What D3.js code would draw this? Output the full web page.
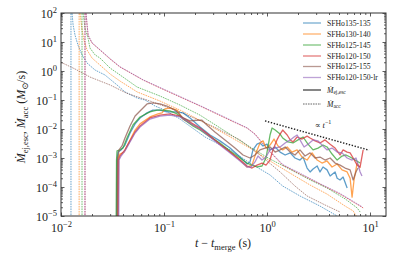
<!DOCTYPE html>
<html>
<head>
<meta charset="utf-8">
<script src="https://cdn.jsdelivr.net/npm/d3@7"></script>
<style>
  body { margin: 0; background: #fff; }
  text { font-family: "Liberation Serif", "DejaVu Serif", serif; fill: #222; }
</style>
</head>
<body>
<svg id="chart" width="407" height="255"></svg>
<script>
// models and colours (matplotlib tab10)
const models = ["SFHo135-135", "SFHo130-140", "SFHo125-145", "SFHo120-150", "SFHo125-155", "SFHo120-150-lr"];
const colors = ["#1f77b4", "#ff7f0e", "#2ca02c", "#d62728", "#8c564b", "#9467bd"];

// escaping ejecta rate [t - t_merge (s), Mdot (Msun/s)]
const ej135 = [[0.0346,1e-6],[0.0350,8.5e-4],[0.0358,1.6e-3],[0.0383,1.9e-3],[0.0418,2.8e-3],[0.0468,7.3e-3],[0.0524,1.5e-2],[0.0585,2.4e-2],[0.0684,3.6e-2],[0.078,4.5e-2],[0.0915,4.5e-2],[0.107,3.9e-2],[0.128,3.9e-2],[0.153,3.6e-2],[0.179,2.4e-2],[0.224,1.17e-2],[0.280,6.2e-3],[0.349,3.9e-3],[0.438,2.2e-3],[0.547,1.08e-3],[0.640,6.2e-4],[0.684,7.3e-4],[0.731,1.9e-3],[0.800,3.0e-3],[0.855,3.3e-3],[0.915,2.6e-3],[1.0,3.0e-3],[1.07,1.9e-3],[1.20,2.4e-3],[1.34,1.6e-3],[1.50,1.27e-3],[1.68,1.5e-3],[1.87,1.0e-3],[2.09,8.5e-4],[2.24,1.08e-3],[2.45,4.5e-4],[2.62,3.3e-4],[2.80,4.2e-4],[3.07,5.3e-4],[3.27,3.3e-4],[3.50,4.9e-4],[3.83,3.9e-4],[4.10,2.4e-4],[4.58,3.3e-4],[4.80,2.0e-4],[5.12,1.75e-4],[5.48,2.2e-4],[6.0,9.2e-5]];
const ej130 = [[0.0354,1e-6],[0.0358,1.0e-3],[0.0374,1.37e-3],[0.0410,1.6e-3],[0.0437,2.6e-3],[0.0468,4.2e-3],[0.0524,9.2e-3],[0.0585,1.5e-2],[0.0731,2.6e-2],[0.0875,3.3e-2],[0.0957,3.6e-2],[0.102,4.9e-2],[0.114,5.3e-2],[0.134,4.5e-2],[0.153,2.2e-2],[0.179,1.6e-2],[0.224,1.0e-2],[0.280,5.7e-3],[0.349,3.0e-3],[0.438,1.6e-3],[0.547,8.5e-4],[0.640,4.9e-4],[0.715,5.7e-4],[0.782,1.5e-3],[0.855,3.3e-3],[0.915,3.9e-3],[0.978,2.2e-3],[1.07,2.8e-3],[1.17,4.5e-3],[1.28,2.6e-3],[1.42,1.9e-3],[1.57,2.4e-3],[1.75,1.6e-3],[1.96,1.9e-3],[2.19,1.08e-3],[2.45,8.5e-4],[2.74,1.5e-3],[3.07,8.5e-4],[3.42,6.7e-4],[3.83,7.9e-4],[4.28,4.9e-4],[4.80,6.2e-4],[5.35,3.9e-4],[6.0,3.3e-4],[6.41,2.0e-4],[6.70,4.5e-5],[7.0,1.75e-4],[7.5,6.7e-4],[8.02,4.5e-4]];
const ej125 = [[0.0342,1e-6],[0.0346,8.5e-4],[0.0350,1.75e-3],[0.0374,1.9e-3],[0.0400,2.2e-3],[0.0437,4.9e-3],[0.050,1.37e-2],[0.0585,2.6e-2],[0.0731,3.9e-2],[0.0855,4.5e-2],[0.0978,4.5e-2],[0.114,4.2e-2],[0.134,3.3e-2],[0.160,2.0e-2],[0.191,1.27e-2],[0.224,9.2e-3],[0.280,5.3e-3],[0.349,3.3e-3],[0.438,1.75e-3],[0.547,1.0e-3],[0.640,6.7e-4],[0.715,5.7e-4],[0.800,4.9e-4],[0.894,5.3e-4],[0.978,1.0e-3],[1.07,6.2e-3],[1.12,1.08e-2],[1.20,9.2e-3],[1.34,6.7e-3],[1.42,4.9e-3],[1.60,3.6e-3],[1.79,3.3e-3],[2.0,4.2e-3],[2.24,5.3e-3],[2.50,3.0e-3],[2.80,1.9e-3],[3.13,2.2e-3],[3.50,2.8e-3],[3.83,2.4e-3],[4.28,1.37e-3],[4.80,8.5e-4],[5.35,1.17e-3],[5.85,1.27e-3],[6.41,1.08e-3],[7.17,8.5e-4],[8.02,6.7e-4]];
const ej120 = [[0.0358,1e-6],[0.0362,8.5e-4],[0.0374,1.17e-3],[0.0418,1.9e-3],[0.0468,3.9e-3],[0.0524,7.9e-3],[0.0585,1.27e-2],[0.0731,2.4e-2],[0.0915,3.0e-2],[0.114,3.3e-2],[0.143,2.8e-2],[0.179,1.75e-2],[0.224,1.08e-2],[0.280,5.7e-3],[0.349,3.0e-3],[0.438,1.6e-3],[0.547,8.5e-4],[0.640,5.3e-4],[0.715,4.5e-4],[0.800,5.7e-4],[0.894,6.7e-4],[0.978,5.7e-4],[1.07,8.5e-4],[1.14,1.9e-3],[1.25,4.2e-3],[1.34,6.7e-3],[1.42,9.2e-3],[1.57,6.2e-3],[1.68,4.2e-3],[1.79,3.6e-3],[1.96,5.3e-3],[2.19,4.5e-3],[2.45,5.7e-3],[2.62,4.9e-3],[2.93,3.9e-3],[3.27,3.3e-3],[3.66,4.2e-3],[4.10,3.0e-3],[4.58,2.2e-3],[5.12,1.27e-3],[5.48,1.9e-3],[6.0,1.6e-3],[6.41,1.5e-3],[6.86,1.0e-3],[7.5,5.7e-4],[8.02,4.9e-4],[8.58,1.9e-3]];
const ej125b = [[0.0350,1e-6],[0.0354,8.5e-4],[0.0366,1.9e-3],[0.0391,2.6e-3],[0.0418,4.9e-3],[0.0468,1.27e-2],[0.0524,2.8e-2],[0.0585,4.2e-2],[0.0684,7.3e-2],[0.078,7.9e-2],[0.0915,7.3e-2],[0.107,6.2e-2],[0.128,4.5e-2],[0.153,2.4e-2],[0.179,1.9e-2],[0.209,2.0e-2],[0.234,2.0e-2],[0.261,1.37e-2],[0.312,7.9e-3],[0.391,4.2e-3],[0.489,2.2e-3],[0.585,1.27e-3],[0.684,1.0e-3],[0.765,1.27e-3],[0.855,1.9e-3],[0.957,2.2e-3],[1.07,2.4e-3],[1.20,1.6e-3],[1.34,1.9e-3],[1.50,2.4e-3],[1.68,1.6e-3],[1.87,1.27e-3],[2.09,1.9e-3],[2.34,1.17e-3],[2.62,1.5e-3],[2.93,1.0e-3],[3.27,1.08e-3],[3.66,8.5e-4],[4.10,1.0e-3],[4.58,6.7e-4],[5.12,5.7e-4],[5.73,4.5e-4],[6.41,3.9e-4],[6.86,1.75e-4],[7.31,3.3e-4],[7.64,4.5e-4]];
const ej120lr = [[0.0362,1e-6],[0.0366,8.5e-4],[0.0383,1.17e-3],[0.0418,1.75e-3],[0.0468,3.6e-3],[0.0524,7.3e-3],[0.0585,1.17e-2],[0.0731,2.2e-2],[0.0915,2.8e-2],[0.114,3.0e-2],[0.143,2.6e-2],[0.179,1.6e-2],[0.224,1.0e-2],[0.280,5.3e-3],[0.349,2.8e-3],[0.438,1.5e-3],[0.547,7.9e-4],[0.640,4.9e-4],[0.700,4.9e-4],[0.765,7.3e-4],[0.818,1.17e-3],[0.894,8.5e-4],[0.978,1.08e-3],[1.07,1.9e-3],[1.20,2.2e-3],[1.34,2.4e-3],[1.50,3.3e-3],[1.68,4.2e-3],[1.83,5.3e-3],[1.96,6.2e-3],[2.09,4.2e-3],[2.29,2.4e-3],[2.50,3.0e-3],[2.80,4.2e-3],[3.13,3.9e-3],[3.42,2.8e-3],[3.83,1.9e-3],[4.28,2.2e-3],[4.80,1.6e-3],[5.35,1.5e-3],[6.0,1.0e-3],[6.70,8.5e-4],[7.31,1.0e-3],[8.02,3.3e-4],[8.36,2.4e-4]];

// accretion rate
const acc135 = [[0.0125,1e-6],[0.0125,300],[0.0128,100],[0.0131,39],[0.0137,17],[0.0146,7.9],[0.0160,3.6],[0.0179,1.89],[0.0214,1.08],[0.0267,0.73],[0.0350,0.33],[0.0418,0.19],[0.0548,0.117],[0.0654,0.10],[0.0818,6.2e-2],[0.102,4.5e-2],[0.143,2.2e-2],[0.250,5.3e-3],[0.438,1.9e-3],[0.684,6.7e-4],[1.07,2.6e-4],[1.42,1.08e-4],[2.09,4.9e-5],[3.27,2.2e-5],[4.80,1e-5],[5.73,4.9e-6]];
const acc130 = [[0.0150,1e-6],[0.0150,300],[0.0153,100],[0.0160,26],[0.0167,11.7],[0.0179,5.3],[0.0200,2.8],[0.0239,1.6],[0.0299,0.79],[0.0374,0.45],[0.0548,0.19],[0.0915,9.2e-2],[0.143,4.5e-2],[0.224,2.0e-2],[0.391,6.7e-3],[0.684,2.2e-3],[1.07,7.9e-4],[1.79,2.6e-4],[2.62,1.17e-4],[3.83,5.7e-5],[5.73,2.2e-5],[6.86,1.5e-5],[7.64,8e-6]];
const acc125 = [[0.0160,1e-6],[0.0160,300],[0.0164,100],[0.0171,30],[0.0183,13.7],[0.0191,6.2],[0.0214,3.6],[0.0239,2.8],[0.0299,1.27],[0.0374,0.73],[0.0548,0.28],[0.0915,0.137],[0.143,6.7e-2],[0.224,3.0e-2],[0.391,8.5e-3],[0.684,2.4e-3],[1.07,9.2e-4],[1.79,3.6e-4],[2.62,1.75e-4],[3.83,9.2e-5],[5.73,3.9e-5],[7.5,1.9e-5],[8.02,1.37e-5]];
const acc120 = [[0.0171,1e-6],[0.0171,300],[0.0175,100],[0.0179,39],[0.0183,17],[0.0200,9.2],[0.0239,5.3],[0.0299,2.6],[0.0374,1.37],[0.0625,0.49],[0.0915,0.26],[0.224,6.2e-2],[0.438,2.0e-2],[0.640,1.08e-2],[0.765,6.7e-3],[0.855,4.2e-3],[1.07,1.6e-3],[1.42,5.7e-4],[2.09,2.8e-4],[3.27,1.27e-4],[5.12,5.7e-5],[8.58,1.9e-5]];
const acc125b = [[0.01,2.0],[0.0137,1.17],[0.0191,0.62],[0.0299,0.33],[0.0437,0.17],[0.0731,9.2e-2],[0.143,3.9e-2],[0.280,1.37e-2],[0.547,4.2e-3],[0.855,1.27e-3],[1.34,3.3e-4],[1.87,1.08e-4],[2.45,4.9e-5],[3.66,2.4e-5],[5.12,1.37e-5]];
const acc120lr = [[0.0171,1e-6],[0.0171,300],[0.0175,100],[0.0179,40],[0.0184,17],[0.0200,9.5],[0.0239,5.4],[0.0299,2.7],[0.0374,1.4],[0.0625,0.5],[0.0915,0.27],[0.224,6.4e-2],[0.438,2.1e-2],[0.640,1.1e-2],[0.765,6.5e-3],[0.855,4.0e-3],[1.07,1.7e-3],[1.42,6.0e-4],[2.09,3.0e-4],[3.27,1.3e-4],[5.12,6.0e-5],[8.36,2.1e-5]];

const ejecta = [ej135, ej130, ej125, ej120, ej125b, ej120lr];
const accretion = [acc135, acc130, acc125, acc120, acc125b, acc120lr];

// reference slope line  ∝ t^-1
const slopeRef = [[0.957, 1.9e-2], [9.8, 1.86e-3]];

const xMajor = [1e-2, 1e-1, 1e0, 1e1];
const xLabels = ["\u22122", "\u22121", "0", "1"];
const yMajor = [1e-5, 1e-4, 1e-3, 1e-2, 1e-1, 1e0, 1e1, 1e2];
const yLabels = ["\u22125", "\u22124", "\u22123", "\u22122", "\u22121", "0", "1", "2"];

const box = {l: 61, r: 386, t: 13, b: 216};
const x = d3.scaleLog().domain([0.01, 14.3]).range([box.l, box.r]);
const y = d3.scaleLog().domain([1e-5, 1e2]).range([box.b, box.t]);

const svg = d3.select("#chart");
svg.append("defs").append("clipPath").attr("id", "clip")
  .append("rect").attr("x", box.l).attr("y", box.t)
  .attr("width", box.r - box.l).attr("height", box.b - box.t);

const line = d3.line().x(d => x(d[0])).y(d => y(d[1]));
const plot = svg.append("g").attr("clip-path", "url(#clip)");

// accretion (dotted) under the ejecta
accretion.forEach((data, i) => {
  plot.append("path").datum(data).attr("d", line)
    .attr("fill", "none").attr("stroke", colors[i])
    .attr("stroke-width", 1).attr("stroke-dasharray", "1.6,0.9")
    .attr("opacity", 0.65);
});
ejecta.forEach((data, i) => {
  plot.append("path").datum(data).attr("d", line)
    .attr("fill", "none").attr("stroke", colors[i])
    .attr("stroke-width", 1.3).attr("stroke-linejoin", "round")
    .attr("opacity", 0.72);
});

plot.append("path").datum(slopeRef).attr("d", line)
  .attr("fill", "none").attr("stroke", "#222")
  .attr("stroke-width", 1.4).attr("stroke-dasharray", "1.4,1.6");

svg.append("text").attr("x", x(2.9)).attr("y", y(1.1e-2))
  .attr("font-size", 8.5)
  .call(t => {
    t.append("tspan").text("\u221d ");
    t.append("tspan").attr("font-style", "italic").text("t");
    t.append("tspan").attr("font-size", 6).attr("dy", -3.5).text("\u22121");
  });

// minor tick values
function minors(lo, hi) {
  const out = [];
  for (let e = lo; e <= hi; e++) for (let k = 2; k <= 9; k++) out.push(k * Math.pow(10, e));
  return out;
}
const xMinor = minors(-2, 1).filter(v => v <= 14.3);
const yMinor = minors(-5, 1);

function drawAxis(axis, tx, ty) {
  const g = svg.append("g").attr("transform", `translate(${tx},${ty})`).call(axis);
  g.select(".domain").remove();
  g.selectAll(".tick line").attr("stroke", "#333").attr("stroke-width", 0.8);
  return g;
}
const maj = 3.5, mnr = 2;
const xb = drawAxis(d3.axisBottom(x).tickValues(xMajor).tickSize(-maj).tickFormat(""), 0, box.b);
drawAxis(d3.axisBottom(x).tickValues(xMinor).tickSize(-mnr).tickFormat(""), 0, box.b);
drawAxis(d3.axisTop(x).tickValues(xMajor).tickSize(-maj).tickFormat(""), 0, box.t);
drawAxis(d3.axisTop(x).tickValues(xMinor).tickSize(-mnr).tickFormat(""), 0, box.t);
const yl = drawAxis(d3.axisLeft(y).tickValues(yMajor).tickSize(-maj).tickFormat(""), box.l, 0);
drawAxis(d3.axisLeft(y).tickValues(yMinor).tickSize(-mnr).tickFormat(""), box.l, 0);
drawAxis(d3.axisRight(y).tickValues(yMajor).tickSize(-maj).tickFormat(""), box.r, 0);
drawAxis(d3.axisRight(y).tickValues(yMinor).tickSize(-mnr).tickFormat(""), box.r, 0);

xb.selectAll(".tick").append("text")
  .attr("y", 16).attr("text-anchor", "middle").attr("font-size", 12)
  .each(function(d, i) {
    const t = d3.select(this);
    t.append("tspan").text("10");
    t.append("tspan").attr("font-size", 8.5).attr("dy", -5).text(xLabels[i]);
  });
yl.selectAll(".tick").append("text")
  .attr("x", -4).attr("y", 4).attr("text-anchor", "end").attr("font-size", 12)
  .each(function(d, i) {
    const t = d3.select(this);
    t.append("tspan").text("10");
    t.append("tspan").attr("font-size", 8.5).attr("dy", -5).text(yLabels[i]);
  });

svg.append("rect").attr("x", box.l).attr("y", box.t)
  .attr("width", box.r - box.l).attr("height", box.b - box.t)
  .attr("fill", "none").attr("stroke", "#333").attr("stroke-width", 1);

// axis labels
svg.append("text").attr("x", 223).attr("y", 247).attr("text-anchor", "middle").attr("font-size", 12)
  .call(t => {
    t.append("tspan").attr("font-style", "italic").text("t");
    t.append("tspan").text(" \u2212 ");
    t.append("tspan").attr("font-style", "italic").text("t");
    t.append("tspan").attr("font-size", 8.5).attr("dy", 2.5).text("merge");
    t.append("tspan").attr("dy", -2.5).text(" (s)");
  });

svg.append("text").attr("transform", "translate(25,117) rotate(-90)")
  .attr("text-anchor", "middle").attr("font-size", 12)
  .call(t => {
    t.append("tspan").attr("font-style", "italic").text("\u1E40");
    t.append("tspan").attr("font-size", 8.5).attr("dy", 2.5).text("ej,esc");
    t.append("tspan").attr("dy", -2.5).text(", ");
    t.append("tspan").attr("font-style", "italic").text("\u1E40");
    t.append("tspan").attr("font-size", 8.5).attr("dy", 2.5).text("acc");
    t.append("tspan").attr("dy", -2.5).text(" (");
    t.append("tspan").attr("font-style", "italic").text("M");
    t.append("tspan").attr("font-size", 8.5).attr("dy", 2.5).text("\u2299");
    t.append("tspan").attr("dy", -2.5).text("/s)");
  });

// legend
const legY = [23, 34, 45, 56, 66.5, 77.5];
const leg = svg.append("g");
models.forEach((name, i) => {
  leg.append("line").attr("x1", 303).attr("x2", 321).attr("y1", legY[i]).attr("y2", legY[i])
    .attr("stroke", colors[i]).attr("stroke-width", 1.3).attr("opacity", 0.6);
  leg.append("text").attr("x", 327).attr("y", legY[i] + 2.6).attr("font-size", 7.7).text(name);
});
leg.append("line").attr("x1", 303).attr("x2", 321).attr("y1", 90).attr("y2", 90)
  .attr("stroke", "#444").attr("stroke-width", 1.3);
leg.append("text").attr("x", 327).attr("y", 92.5).attr("font-size", 7.7)
  .call(t => {
    t.append("tspan").attr("font-style", "italic").text("\u1E40");
    t.append("tspan").attr("font-size", 5.5).attr("dy", 1.8).text("ej,esc");
  });
leg.append("line").attr("x1", 303).attr("x2", 321).attr("y1", 104).attr("y2", 104)
  .attr("stroke", "#666").attr("stroke-width", 1).attr("stroke-dasharray", "1.6,0.9");
leg.append("text").attr("x", 327).attr("y", 106.5).attr("font-size", 7.7)
  .call(t => {
    t.append("tspan").attr("font-style", "italic").text("\u1E40");
    t.append("tspan").attr("font-size", 5.5).attr("dy", 1.8).text("acc");
  });
</script>
</body>
</html>
